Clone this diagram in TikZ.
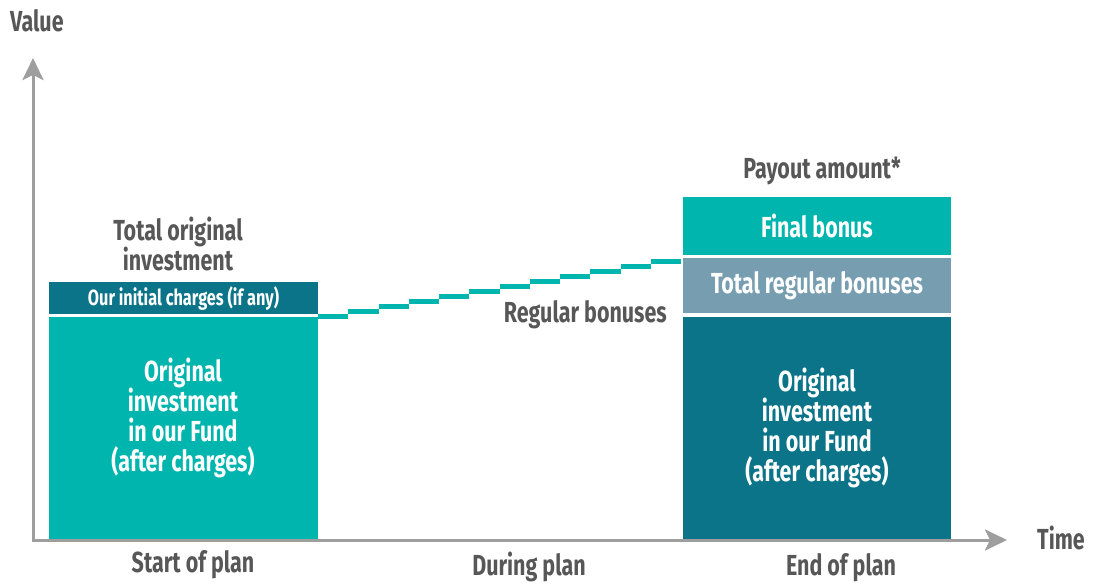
\documentclass[tikz,border=0pt]{standalone}
\usepackage{fontspec}
\setmainfont{Fira Sans}[FakeStretch=0.74]
\usetikzlibrary{arrows.meta,calc}
\definecolor{bonusteal}{HTML}{00B5AD}
\definecolor{deepteal}{HTML}{0B7489}
\definecolor{greyblue}{HTML}{779EB0}
\definecolor{axisgrey}{HTML}{9E9E9E}
\definecolor{txtgrey}{HTML}{575757}
\begin{document}
\begin{tikzpicture}[x=1pt,y=-1pt]
\tikzstyle{axis}= [axisgrey,line width=3pt,{Stealth[length=22pt,width=21pt,inset=5pt]}-{Stealth[length=22pt,width=21pt,inset=5pt]}]
\tikzstyle{blk}= [rectangle,inner sep=0pt,text=white,font=\bfseries\fontsize{29}{30}\selectfont,align=center]
\tikzstyle{lbl}= [text=txtgrey,font=\bfseries\fontsize{29}{30}\selectfont,align=center,inner sep=0pt]
\tikzstyle{stair}= [bonusteal,line width=5pt]

\useasboundingbox (0,0) rectangle (1094,584);

\path
	(33,58)   coordinate (ytip)
	(1007,540) coordinate (xtip)
	(183.5,298) node[blk,fill=deepteal,minimum width=269pt,minimum height=32pt,font=\bfseries\fontsize{22}{24}\selectfont] (charges) {Our initial charges (if any)}
	(183.5,428) node[blk,fill=bonusteal,minimum width=269pt,minimum height=222pt] (orig) {}
	(817,226)   node[blk,fill=bonusteal,minimum width=268pt,minimum height=58pt] (final) {Final bonus}
	(817,285.5) node[blk,fill=greyblue,minimum width=268pt,minimum height=55pt] (regular) {Total regular bonuses}
	(817,428)   node[blk,fill=deepteal,minimum width=268pt,minimum height=222pt] (payorig) {Original\\investment\\in our Fund\\(after charges)}
;
\node[blk] at (183,418) {Original\\investment\\in our Fund\\(after charges)};
\draw[axis] (ytip) |- (xtip);

% regular bonus steps
\foreach \i in {0,...,11}
	\draw[stair] ($(orig.north east)+(30.25*\i,-5*\i)$) -- ++(30.25,0);

\node[lbl,anchor=west] at (10,21) {Value};
\node[lbl,anchor=west] at (1037,538) {Time};
\node[lbl] at (178,244) {Total original\\investment};
\node[lbl] at (822,171) {Payout amount*};
\node[lbl,anchor=east] at (667,315) {Regular bonuses};
\node[lbl] at (193,565) {Start of plan};
\node[lbl] at (529,567) {During plan};
\node[lbl] at (841,568) {End of plan};
\end{tikzpicture}
\end{document}
